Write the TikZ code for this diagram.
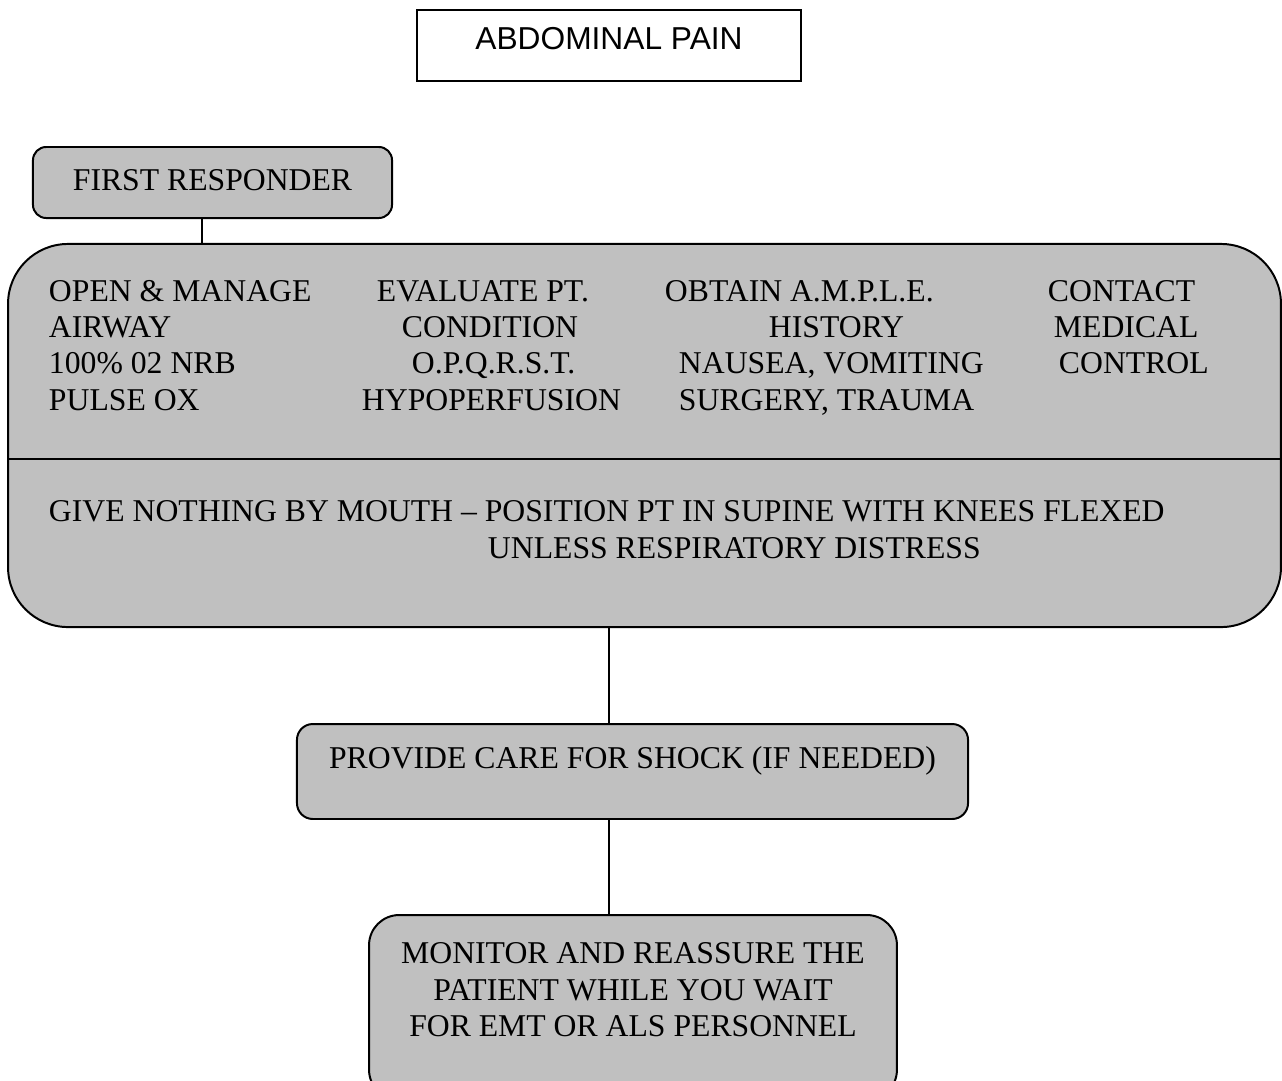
\documentclass[tikz,border=0pt]{standalone}
\usepackage{fontspec}
\setmainfont{Liberation Serif}
\newfontfamily\arialfont{Liberation Sans}
\usetikzlibrary{positioning}
\definecolor{boxgrey}{HTML}{C0C0C0}

\begin{document}
\begin{tikzpicture}[x=0.3785pt, y=-0.3785pt, line width=0.75pt, font=\fontsize{12}{13.8}\selectfont]
            \tikzset{
                greybox/.style={
                        draw, fill=boxgrey, rounded corners=#1, inner sep=0pt
                    },
                txt/.style={
                        inner sep=0pt, anchor=base west
                    }
            }
            \useasboundingbox (0,0) rectangle (1282,1080);

            % Title
            \node[draw, fill=white, inner sep=0pt, minimum width=145.3pt, text height=14.76pt, text depth=12.11pt, font=\arialfont\fontsize{12}{13.8}\selectfont] (title) at (609,45.5) {ABDOMINAL PAIN};

            % First responder
            \node[greybox=5pt, minimum width=135.9pt, text height=16.28pt, text depth=10.6pt] (fr) at (212.5,182.5) {FIRST RESPONDER};

            % Assessment box
            \node[greybox=22.7pt, minimum width=481.8pt, minimum height=145pt] (assess) at (644.5,435.5) {};
            \coordinate (split) at (0,459);
            \draw (assess.west |- split) -- (assess.east |- split);

            \foreach \x/\y/\t [count=\i] in {
                    48/301/{OPEN \& MANAGE}, 48/337/AIRWAY, 48/373/{100\% 02 NRB}, 48/410/{PULSE OX},
                    376/301/{EVALUATE PT.}, 401/337/CONDITION, 411/373/{O.P.Q.R.S.T.}, 361/410/HYPOPERFUSION,
                    664/301/{OBTAIN A.M.P.L.E.}, 768/337/HISTORY, 678/373/{NAUSEA, VOMITING}, 678/410/{SURGERY, TRAUMA},
                    1047/301/CONTACT, 1053/337/MEDICAL, 1058/373/CONTROL}
                \node[txt] (step\i) at (\x,\y) {\t};

            \node[txt] (nothing) at (48,521) {GIVE NOTHING BY MOUTH – POSITION PT IN SUPINE WITH KNEES FLEXED};
            \node[txt] (unless) at (487,558) {UNLESS RESPIRATORY DISTRESS};

            % Shock
            \node[greybox=6pt, minimum width=254pt, text height=16.65pt, text depth=19.3pt] (shock) at (632.5,771.5) {PROVIDE CARE FOR SHOCK (IF NEEDED)};

            % Monitor
            \node[greybox=11.4pt, minimum width=199.8pt, minimum height=70pt] (monitor) at (633,1007.5) {};
            \node[inner sep=0pt, anchor=north, align=center] (wait) at (633,942) {MONITOR AND REASSURE THE\\PATIENT WHILE YOU WAIT\\FOR EMT OR ALS PERSONNEL};

            % Connectors
            \draw ([xshift=-4pt]fr.south) -- ([xshift=-4pt]fr.south |- assess.north);
            \draw ([xshift=-8.9pt]shock.north) -- ([xshift=-8.9pt]shock.north |- assess.south);
            \draw ([xshift=-9.1pt]monitor.north) -- ([xshift=-9.1pt]monitor.north |- shock.south);
        \end{tikzpicture}
\end{document}
